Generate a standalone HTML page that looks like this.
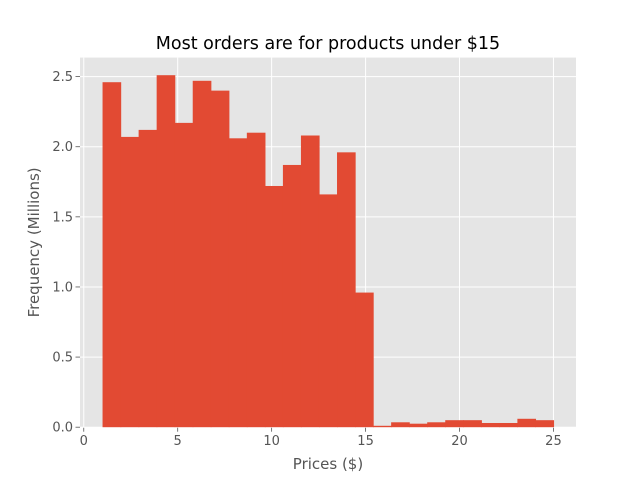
<!DOCTYPE html>
<html><head><meta charset="utf-8"><style>
html,body{margin:0;padding:0;background:#fff;}
svg{display:block;font-family:"DejaVu Sans","Liberation Sans",sans-serif;}
</style></head><body>
<svg id="chart" width="640" height="480"></svg>
<script>
const binStarts = [1,1.96,2.92,3.88,4.84,5.8,6.76,7.72,8.68,9.64,10.6,11.56,12.52,13.48,14.44,15.4,16.36,17.32,18.28,19.24,20.2,21.16,22.12,23.08,24.04];
const binWidth = 0.96;
const frequencies = [2.46,2.07,2.12,2.51,2.17,2.47,2.40,2.06,2.10,1.72,1.87,2.08,1.66,1.96,0.96,0.01,0.035,0.025,0.035,0.05,0.05,0.03,0.03,0.06,0.05];
const xTicks = [0,5,10,15,20,25];
const yTicks = [0,0.5,1.0,1.5,2.0,2.5];
const yTickLabels = ["0.0","0.5","1.0","1.5","2.0","2.5"];

const NS="http://www.w3.org/2000/svg";
const svg=document.getElementById('chart');
const L=80,R=576,T=57.6,B=427.2;
const xMin=-0.2,xMax=26.2,yMin=0,yMax=2.6355;
const xs=v=>L+(v-xMin)/(xMax-xMin)*(R-L);
const ys=v=>B-(v-yMin)/(yMax-yMin)*(B-T);
function mk(tag,attrs,parent){const e=document.createElementNS(NS,tag);for(const k in attrs)e.setAttribute(k,attrs[k]);(parent||svg).appendChild(e);return e;}

const bg=mk('rect',{x:L,y:T,width:R-L,height:B-T,fill:'#E5E5E5'});



xTicks.forEach(t=>{
  const g=mk('line',{x1:xs(t),x2:xs(t),y1:T,y2:B,stroke:'#fff','stroke-width':1});
  
  
  const tk=mk('line',{x1:xs(t),x2:xs(t),y1:B,y2:B+4.5,stroke:'#555','stroke-width':0.8});
  
  
  const lb=mk('text',{x:xs(t),y:B+18,'text-anchor':'middle','font-size':13,fill:'#555'});
  lb.textContent=t;
  
  
});
yTicks.forEach((t,i)=>{
  const g=mk('line',{x1:L,x2:R,y1:ys(t),y2:ys(t),stroke:'#fff','stroke-width':1});
  
  
  const tk=mk('line',{x1:L-4.5,x2:L,y1:ys(t),y2:ys(t),stroke:'#555','stroke-width':0.8});
  
  
  const lb=mk('text',{x:L-7,y:ys(t)+4.5,'text-anchor':'end','font-size':13,fill:'#555'});
  lb.textContent=yTickLabels[i];
  
  
});

frequencies.forEach((f,i)=>{
  const x0=xs(binStarts[i]),x1=xs(binStarts[i]+binWidth);
  const r=mk('rect',{x:x0,y:ys(f),width:x1-x0+0.6,height:ys(0)-ys(f),fill:'#E24A33'});
  
  
});

const title=mk('text',{x:(L+R)/2,y:49,'text-anchor':'middle','font-size':17.5,fill:'#000'});
title.textContent='Most orders are for products under $15';



const xt=mk('text',{x:(L+R)/2,y:469,'text-anchor':'middle','font-size':15,fill:'#555'});
xt.textContent='Prices ($)';



const yt=mk('text',{x:0,y:0,'text-anchor':'middle','font-size':15,fill:'#555',transform:`translate(39,${(T+B)/2}) rotate(-90)`});
yt.textContent='Frequency (Millions)';


</script>
</body></html>
